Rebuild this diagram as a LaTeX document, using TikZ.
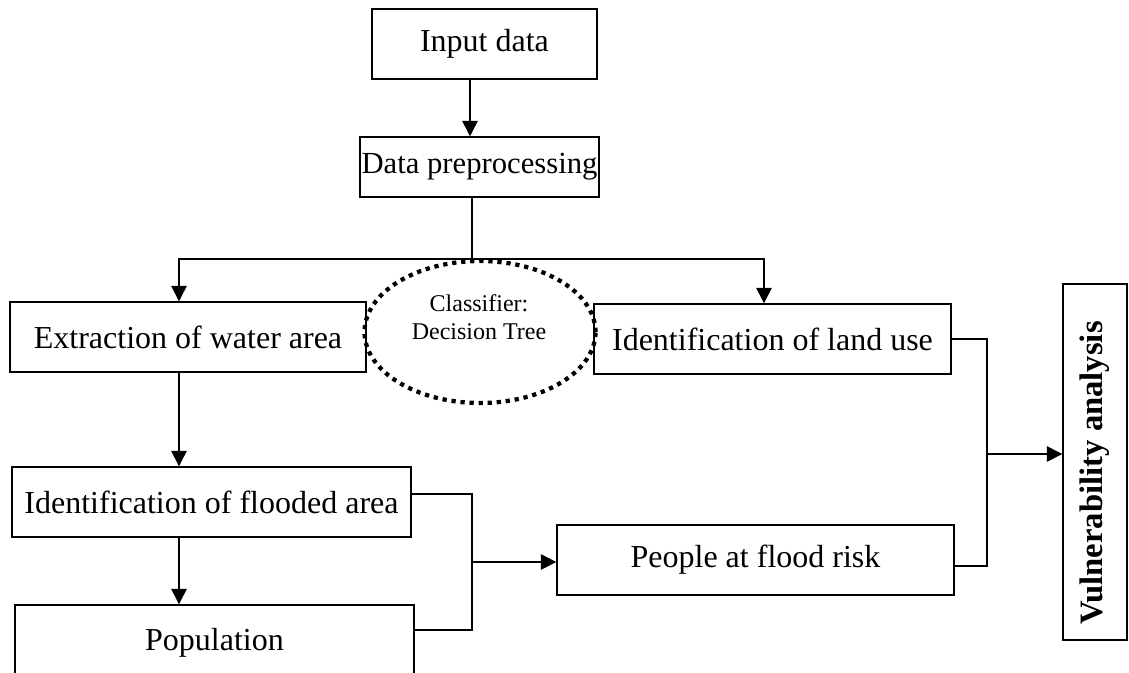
\documentclass[tikz,border=0pt]{standalone}
\usepackage{fontspec}
\setmainfont{Liberation Serif}
\usetikzlibrary{arrows.meta,shapes.geometric}

\begin{document}
\begin{tikzpicture}[x=0.75pt,y=-0.75pt,
  box/.style={draw,line width=1.1pt,inner sep=0pt,minimum height=52.5pt,font=\fontsize{24}{28}\selectfont},
  cls/.style={draw,ellipse,line width=3.2pt,dash pattern=on 3.2pt off 3.6pt,minimum width=173.25pt,minimum height=106.5pt,inner sep=0pt},
  arr/.style={-{Triangle[length=11.5pt,width=11.5pt]},line width=1.1pt},
  wire/.style={line width=1.1pt}]
\useasboundingbox (0,0) rectangle (1129,672);
% boxes
\node[box,minimum width=168.75pt] (input) at (484.5,44) {Input data};
\node[box,minimum width=179.25pt,minimum height=45pt,font=\fontsize{23}{27}\selectfont] (prep) at (479.5,167) {Data preprocessing};
\node[box,minimum width=267pt] (extract) at (188,337) {Extraction of water area};
\node[cls] (classifier) at (480,332) {};
\node[font=\fontsize{18}{21}\selectfont,align=center] (clstext) at (479,317) {Classifier:\\Decision Tree};
\node[box,minimum width=267.75pt] (landuse) at (772.5,339) {Identification of land use};
\node[box,minimum width=299.25pt] (flooded) at (211.5,502) {Identification of flooded area};
\node[box,minimum width=299.25pt,minimum height=57pt] (pop) at (214.5,643) {Population};
\node[box,minimum width=297.75pt] (people) at (755.5,560) {People at flood risk};
\node[box,minimum width=48pt,minimum height=267pt] (vuln) at (1095,462)
  {\rotatebox{90}{\fontsize{24.5}{28}\selectfont\bfseries Vulnerability analysis\hspace{16pt}}};
% connectors
\coordinate (ax1) at (470,0);
\coordinate (sp) at (472,259);
\coordinate (c1) at (179,0);
\coordinate (c2) at (764,0);
\coordinate (j1) at (472,562);
\coordinate (j2) at (987,454);
\draw[arr] (input.south -| ax1) -- (prep.north -| ax1);
\draw[wire] (prep.south -| sp) -- (sp);
\draw[arr] (sp) -| (extract.north -| c1);
\draw[arr] (sp) -| (landuse.north -| c2);
\draw[arr] (extract.south -| c1) -- (flooded.north -| c1);
\draw[arr] (flooded.south -| c1) -- (pop.north -| c1);
\draw[wire] ([yshift=6pt]flooded.east) -| (j1) |- ([yshift=9.75pt]pop.east);
\draw[arr] (j1) -- (people.west |- j1);
\draw[wire] (landuse.east) -| (j2) |- ([yshift=-4.5pt]people.east);
\draw[arr] (j2) -- (vuln.west |- j2);
\end{tikzpicture}
\end{document}
